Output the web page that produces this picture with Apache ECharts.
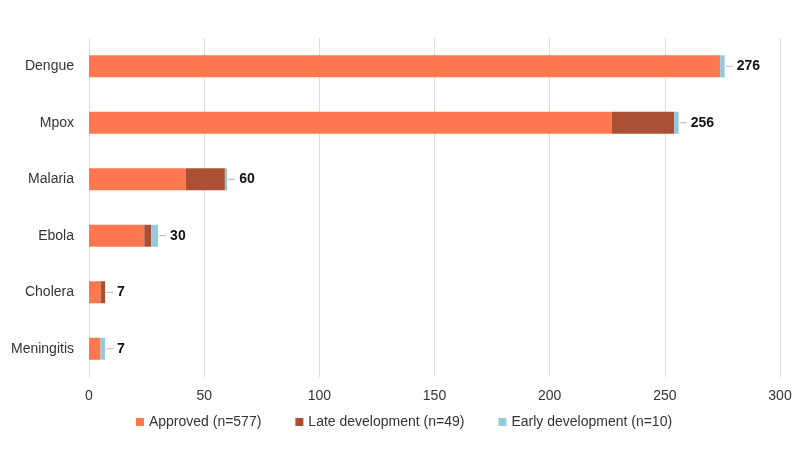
<!DOCTYPE html>
<html>
<head>
<meta charset="utf-8">
<script src="https://cdn.jsdelivr.net/npm/echarts@6/dist/echarts.min.js"></script>
<style>
  html, body { margin: 0; padding: 0; background: #fff; }
  #chart { width: 808px; height: 465px; }
</style>
</head>
<body>
<div id="chart"></div>
<script>
const categories = ["Dengue", "Mpox", "Malaria", "Ebola", "Cholera", "Meningitis"];
const approved = [274, 227, 42, 24, 5, 5];
const lateDev = [0, 27, 17, 3, 2, 0];
const earlyDev = [2, 2, 1, 3, 0, 2];
const seriesNames = ["Approved (n=577)", "Late development (n=49)", "Early development (n=10)"];
const xTicks = [0, 50, 100, 150, 200, 250, 300];

const totals = categories.map((c, i) => approved[i] + lateDev[i] + earlyDev[i]);
const color = ["#FF774F", "#AC5033", "#96CADB"];
const font = "Liberation Sans, Arial, sans-serif";

const myChart = echarts.init(document.getElementById("chart"));

const baseBar = {
  type: "bar",
  stack: "total",
  barWidth: 22,
  silent: true,
};

const option = {
  animation: false,
  color,
  textStyle: { fontFamily: font },
  grid: {
    top: 38,
    bottom: 88,
    left: 89,
    right: 28,
    containLabel: false,
  },
  legend: {
    bottom: 31,
    left: "center",
    itemWidth: 8,
    itemHeight: 8,
    itemGap: 34,
    icon: "rect",
    textStyle: { fontSize: 14, color: "#333", fontFamily: font },
    data: seriesNames,
  },
  xAxis: {
    type: "value",
    min: xTicks[0],
    max: xTicks[xTicks.length - 1],
    interval: 50,
    axisLine: { show: false },
    axisTick: { show: false },
    axisLabel: { fontSize: 14, color: "#333", margin: 12 },
    splitLine: { lineStyle: { color: "#dcdcdc" } },
  },
  yAxis: {
    type: "category",
    inverse: true,
    data: categories,
    axisLine: { show: true, lineStyle: { color: "#dcdcdc" } },
    axisTick: { show: false },
    axisLabel: { fontSize: 14, color: "#333", margin: 15 },
  },
  series: [
    Object.assign({}, baseBar, { name: seriesNames[0], data: approved }),
    Object.assign({}, baseBar, { name: seriesNames[1], data: lateDev }),
    Object.assign({}, baseBar, {
      name: seriesNames[2],
      data: earlyDev,
      label: {
        show: true,
        position: "right",
        distance: 1,
        formatter: (p) => "{l|}{v|" + totals[p.dataIndex] + "}",
        rich: {
          l: { width: 7, height: 1, backgroundColor: "#b5b5b5" },
          v: { fontSize: 14, fontWeight: "bold", color: "#111", padding: [0, 0, 0, 4] },
        },
      },
    }),
  ],
};

myChart.setOption(option);
</script>
</body>
</html>
